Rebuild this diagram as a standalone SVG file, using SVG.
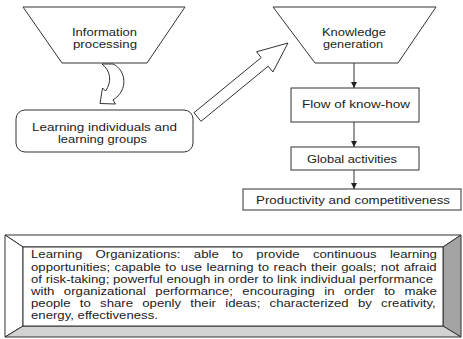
<svg xmlns="http://www.w3.org/2000/svg" width="463" height="339" viewBox="0 0 463 339">
<defs>
<style>
.s{stroke:#333;stroke-width:1;fill:#fff}
.t{font-family:"Liberation Sans",Arial,sans-serif;font-size:10.5px;fill:#222}
.p{font-family:"Liberation Sans",Arial,sans-serif;font-size:10.5px;fill:#222}
.ln{stroke:#333;stroke-width:1;fill:none}
</style>
<marker id="ah" viewBox="0 0 10 10" refX="10" refY="5" markerWidth="6" markerHeight="6" markerUnits="userSpaceOnUse" orient="auto">
<path d="M0,0 L10,5 L0,10 Z" fill="#222"/>
</marker>
</defs>
<rect width="463" height="339" fill="#fff"/>
<g id="info">
<polygon class="s" points="23,7 185,7 147,63 62,63"/>
<text class="t" x="72" y="36" textLength="65" lengthAdjust="spacingAndGlyphs">Information</text>
<text class="t" x="73" y="47.5" textLength="64" lengthAdjust="spacingAndGlyphs">processing</text>
</g>
<g id="learners">
<rect class="s" x="16" y="110" width="177" height="42" rx="9"/>
<text class="t" x="32" y="131" textLength="145" lengthAdjust="spacingAndGlyphs">Learning individuals and</text>
<text class="t" x="58" y="142.5" textLength="89" lengthAdjust="spacingAndGlyphs">learning groups</text>
</g>
<g id="knowledge">
<polygon class="s" points="273,7 436,7 398,63 315,63"/>
<text class="t" x="322" y="36" textLength="64" lengthAdjust="spacingAndGlyphs">Knowledge</text>
<text class="t" x="323" y="47.5" textLength="60" lengthAdjust="spacingAndGlyphs">generation</text>
</g>
<g id="flow">
<rect class="s" x="291" y="88" width="128" height="34"/>
<text class="t" x="302" y="108" textLength="108" lengthAdjust="spacingAndGlyphs">Flow of know-how</text>
</g>
<g id="global">
<rect class="s" x="291" y="147" width="128" height="23"/>
<text class="t" x="307" y="163" textLength="90" lengthAdjust="spacingAndGlyphs">Global activities</text>
</g>
<g id="productivity">
<rect class="s" x="243" y="189" width="218" height="21"/>
<text class="t" x="256" y="203.5" textLength="194" lengthAdjust="spacingAndGlyphs">Productivity and competitiveness</text>
</g>
<g id="connectors">
<path class="s" d="M102,64 L113,64 C126,70 129,90 113,100 L115.5,104 L100,103.5 L102.5,88 L105.5,91 C112,82 111,71 102,64 Z"/>
<polygon class="s" points="194,112.7 261.2,57.6 256.5,51.8 288,43 272.9,72 268.2,66.2 201,121.3"/>
<line class="ln" x1="354" y1="63" x2="354" y2="88" marker-end="url(#ah)"/>
<line class="ln" x1="354" y1="122" x2="354" y2="147" marker-end="url(#ah)"/>
<line class="ln" x1="354" y1="170" x2="354" y2="189" marker-end="url(#ah)"/>
</g>
<g id="summary">
<polygon class="s" points="5,235 461,235 443,247 23,247"/>
<polygon class="s" points="5,235 23,247 23,326 5,337"/>
<polygon class="s" points="461,235 461,337 443,326 443,247" style="fill:#a4a4a4"/>
<polygon class="s" points="5,337 23,326 443,326 461,337" style="fill:#d2d2d2"/>
<rect class="s" x="23" y="247" width="420" height="79"/>
<g transform="translate(31,0) scale(1.2562,1)">
<text class="p" x="0" y="258.5" style="word-spacing:0.732em">Learning Organizations: able to provide continuous learning</text>
<text class="p" x="0" y="270.7" style="word-spacing:0.066em">opportunities; capable to use learning to reach their goals; not afraid</text>
<text class="p" x="0" y="282.9">of risk-taking; powerful enough in order to link individual performance</text>
<text class="p" x="0" y="295.1" style="word-spacing:0.437em">with organizational performance; encouraging in order to make</text>
<text class="p" x="0" y="307.3" style="word-spacing:0.424em">people to share openly their ideas; characterized by creativity,</text>
<text class="p" x="0" y="319.5">energy, effectiveness.</text>
</g>
</g>
</svg>
